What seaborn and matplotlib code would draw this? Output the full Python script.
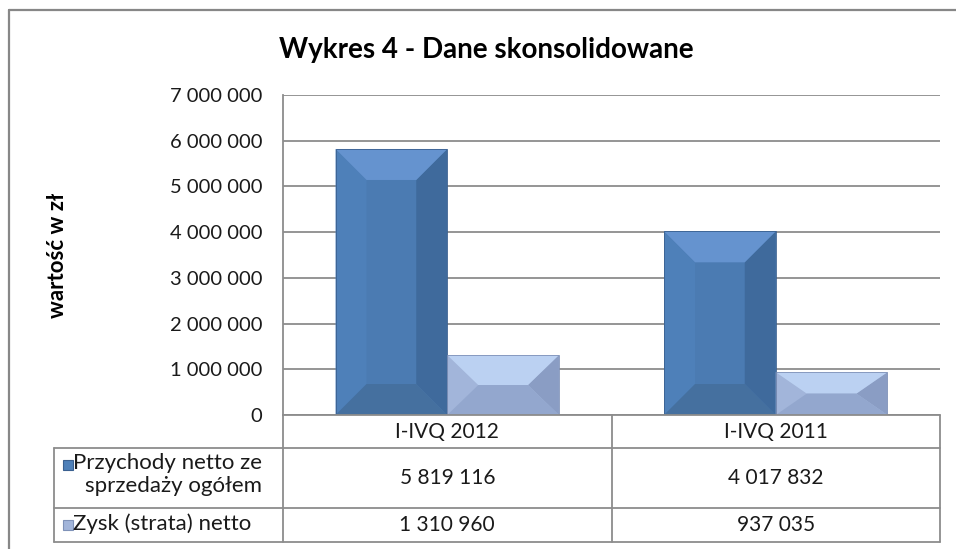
import matplotlib
matplotlib.use("Agg")
import matplotlib.pyplot as plt
from matplotlib.patches import Polygon, Rectangle
from matplotlib.lines import Line2D
import seaborn as sns
import pandas as pd

# dane
okresy = ["I-IVQ 2012", "I-IVQ 2011"]
serie = ["Przychody netto ze\nsprzedaży ogółem", "Zysk (strata) netto"]
przychody = [5819116, 4017832]
zysk = [1310960, 937035]
y_ticks = [0, 1000000, 2000000, 3000000, 4000000, 5000000, 6000000, 7000000]

tytul = "Wykres 4 - Dane skonsolidowane"
os_y = "wartość w zł"

# kolory: srodek, gora, dol, lewo, prawo, krawedz
kolory = [
    {"mid": "#4B7BB2", "top": "#6593CF", "bot": "#45709F", "left": "#4E80B9",
     "right": "#3F6A9C", "edge": "#3A6090"},
    {"mid": "#A4B8DC", "top": "#BBD1F2", "bot": "#93A7CE", "left": "#A2B5DA",
     "right": "#8A9DC4", "edge": "#7F92B8"},
]
siatka = "#8C8C8C"
tekst = "#1a1a1a"

W, H = 956, 549


def fmt(v):
    return f"{v:,.0f}".replace(",", " ")


def fx(px):
    return px / W


def fy(py):
    return 1 - py / H


df = pd.DataFrame({
    "okres": okresy * 2,
    "seria": [serie[0]] * len(okresy) + [serie[1]] * len(okresy),
    "wartosc": przychody + zysk,
})

sns.set_theme(style="white")
plt.rcParams["font.family"] = ["Lato", "DejaVu Sans"]

fig = plt.figure(figsize=(W / 100, H / 100), dpi=100)
ax = fig.add_axes([fx(283), fy(415), fx(940) - fx(283), fy(95) - fy(415)])

sns.barplot(data=df, x="okres", y="wartosc", hue="seria", hue_order=serie,
            palette=[k["mid"] for k in kolory], width=0.68, saturation=1,
            legend=False, ax=ax, linewidth=0)

ax.set_xlim(-0.5, len(okresy) - 0.5)
ax.set_ylim(0, y_ticks[-1])
ax.set_yticks(y_ticks)
ax.set_yticklabels([fmt(v) for v in y_ticks], fontsize=14.5, color=tekst)
ax.tick_params(axis="y", length=0, pad=15)
ax.set_xticks([])
ax.set_xlabel("")
ax.set_ylabel("")
ax.yaxis.grid(True, color=siatka, linewidth=1.3)
ax.set_axisbelow(True)
for s in ["top", "right", "bottom"]:
    ax.spines[s].set_visible(False)
ax.spines["left"].set_color(siatka)
ax.spines["left"].set_linewidth(1.3)

# efekt fazowania slupkow
n = len(okresy)
px_x = (940 - 283) / n
px_y = (415 - 95) / y_ticks[-1]
bx = 31 / px_x
by_max = 31 / px_y
bary = [p for p in ax.patches if p.get_height() > 0]
for i, p in enumerate(bary):
    k = kolory[min(i // n, len(kolory) - 1)]
    x0, y0 = p.get_x(), p.get_y()
    x1, y1 = x0 + p.get_width(), y0 + p.get_height()
    by = min(by_max, p.get_height() / 2)
    czesci = [
        ([(x0, y0), (x0 + bx, y0 + by), (x0 + bx, y1 - by), (x0, y1)], k["left"]),
        ([(x1, y0), (x1 - bx, y0 + by), (x1 - bx, y1 - by), (x1, y1)], k["right"]),
        ([(x0, y1), (x1, y1), (x1 - bx, y1 - by), (x0 + bx, y1 - by)], k["top"]),
        ([(x0, y0), (x1, y0), (x1 - bx, y0 + by), (x0 + bx, y0 + by)], k["bot"]),
    ]
    for pts, c in czesci:
        ax.add_patch(Polygon(pts, closed=True, facecolor=c, edgecolor="none", zorder=3))
    ax.add_patch(Rectangle((x0, y0), x1 - x0, y1 - y0, facecolor="none",
                           edgecolor=k["edge"], linewidth=0.6, zorder=4))

# tabela danych
wiersze_y = [415, 448, 508, 542]
kol_x = [283 + j * px_x for j in range(n + 1)]
lewa = 54
linie = dict(color=siatka, linewidth=1.3, transform=fig.transFigure)

fig.add_artist(Line2D([fx(283), fx(940)], [fy(415), fy(415)], **linie))
for yy in wiersze_y[1:]:
    fig.add_artist(Line2D([fx(lewa), fx(940)], [fy(yy), fy(yy)], **linie))
fig.add_artist(Line2D([fx(lewa), fx(lewa)], [fy(448), fy(542)], **linie))
for xx in kol_x:
    fig.add_artist(Line2D([fx(xx), fx(xx)], [fy(415), fy(542)], **linie))

for j, okr in enumerate(okresy):
    cx = (kol_x[j] + kol_x[j + 1]) / 2
    fig.text(fx(cx), fy(432), okr, ha="center", va="center", fontsize=15, color=tekst)
    for r, wart in enumerate([przychody, zysk]):
        cy = (wiersze_y[r + 1] + wiersze_y[r + 2]) / 2
        fig.text(fx(cx), fy(cy), fmt(wart[j]), ha="center", va="center",
                 fontsize=15, color=tekst)

pierwsza_linia = [465, 525]
for r, nazwa in enumerate(serie):
    k = kolory[r]
    cy = pierwsza_linia[r]
    fig.add_artist(Rectangle((fx(63), fy(cy + 5)), fx(10), 10 / H,
                             facecolor=k["left"], edgecolor=k["edge"], linewidth=0.8,
                             transform=fig.transFigure))
    fig.text(fx(73), fy(cy - 12), nazwa, ha="left", va="top",
             multialignment="right", fontsize=16, color=tekst, linespacing=1.2)

# ramka wykresu
ramka = dict(color="#878787", linewidth=1.6, transform=fig.transFigure)
fig.add_artist(Line2D([fx(9), 1.0], [fy(10), fy(10)], **ramka))
fig.add_artist(Line2D([fx(9), fx(9)], [fy(10), 0.0], **ramka))

fig.text(fx(486), fy(50), tytul, ha="center", va="center", fontsize=20,
         fontweight="bold", color="#000000")
fig.text(fx(57), fy(255), os_y, ha="center", va="center", rotation=90,
         fontsize=16, fontweight="bold", color="#000000")

fig.savefig("out.png", dpi=100, facecolor="white")
